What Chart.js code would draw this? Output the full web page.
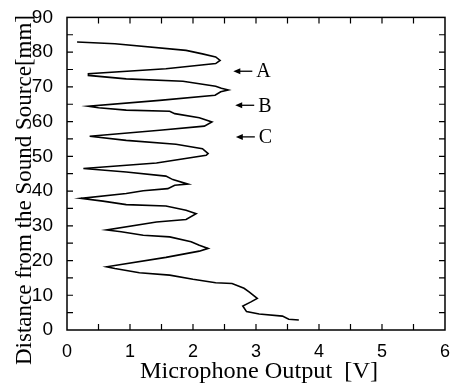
<!DOCTYPE html>
<html>
<head>
<meta charset="utf-8">
<script src="https://cdn.jsdelivr.net/npm/chart.js@4/dist/chart.umd.min.js"></script>
<style>
  html, body { margin: 0; padding: 0; background: #fff; }
  #wrap { width: 453px; height: 383px; }
</style>
</head>
<body>
<div id="wrap"><canvas id="micChart" width="453" height="383"></canvas></div>
<script>
// microphone output [V] vs distance from the sound source [mm]
const volts = [0.16, 0.76, 1.89, 2.15, 2.36, 2.43, 2.36, 1.57, 0.34, 0.34, 0.94, 1.84, 2.36, 2.45, 2.56, 2.44, 2.35,
    1.47, 0.34, 0.50, 0.94, 1.63, 1.71, 2.10, 2.30, 2.18, 1.47, 0.36, 0.94, 1.73, 2.15, 2.24, 2.21, 1.42, 0.26,
    0.94, 1.57, 1.68, 1.92, 1.71, 1.60, 1.21, 0.94, 0.22, 0.57, 0.94, 1.57, 1.89, 2.05, 1.89, 1.42, 0.63, 0.86,
    1.21, 1.63, 1.97, 2.10, 2.24, 2.10, 1.57, 0.63, 0.76, 1.15, 1.63, 2.00, 2.36, 2.62, 2.81, 2.89, 3.02, 2.92,
    2.79, 2.85, 3.05, 3.42, 3.52, 3.68];
const distances = [82.9, 82.4, 80.5, 79.5, 78.6, 77.6, 76.7, 75.2, 73.8, 73.3, 72.3, 71.6, 70.2, 69.6, 69.1, 68.6, 67.6,
    66.1, 64.4, 64.0, 63.3, 63.0, 62.3, 61.1, 59.9, 58.7, 57.5, 55.8, 54.6, 53.5, 52.2, 50.8, 50.3, 48.1, 46.5,
    45.5, 44.3, 43.3, 42.0, 41.7, 40.7, 40.1, 39.3, 37.9, 37.1, 36.1, 35.7, 34.5, 33.5, 31.8, 31.1, 28.8, 28.3,
    27.3, 26.8, 25.4, 24.4, 23.5, 22.7, 20.9, 18.2, 17.7, 16.5, 15.8, 14.6, 13.6, 13.4, 12.0, 11.0, 9.1, 8.1,
    6.9, 5.3, 4.6, 4.0, 3.1, 2.9];

// marked positions
const markLabels = ['A', 'B', 'C'];
const markDistances = [74.5, 64.7, 55.6];
const markVolts = [2.64, 2.67, 2.68];

const xTickLabels = ['0', '1', '2', '3', '4', '5', '6'];
const yTickLabels = ['0', '10', '20', '30', '40', '50', '60', '70', '80', '90'];

const points = volts.map((v, i) => ({ x: v, y: distances[i] }));

const serif = '"Liberation Serif", "Times New Roman", serif';

// draw text squeezed/stretched to a given width
function fitText(ctx, text, x, y, width) {
    const w = ctx.measureText(text).width;
    ctx.save();
    ctx.translate(x, y);
    ctx.scale(width / w, 1);
    ctx.fillText(text, 0, 0);
    ctx.restore();
}

// frame, inward ticks, titles and A/B/C markers
const framePlugin = {
    id: 'frame',
    afterDraw(chart) {
        const ctx = chart.ctx;
        const a = chart.chartArea;
        const xs = chart.scales.x;
        const ys = chart.scales.y;
        ctx.save();
        ctx.strokeStyle = '#000';
        ctx.lineWidth = 1.5;
        ctx.strokeRect(a.left, a.top, a.right - a.left, a.bottom - a.top);

        ctx.lineWidth = 1.2;
        ctx.beginPath();
        for (let v = 0.5; v < 6; v += 0.5) {
            const px = xs.getPixelForValue(v);
            ctx.moveTo(px, a.bottom); ctx.lineTo(px, a.bottom - 6);
            ctx.moveTo(px, a.top); ctx.lineTo(px, a.top + 6);
        }
        for (let v = 5; v < 90; v += 5) {
            const py = ys.getPixelForValue(v);
            ctx.moveTo(a.left, py); ctx.lineTo(a.left + 6, py);
            ctx.moveTo(a.right, py); ctx.lineTo(a.right - 6, py);
        }
        ctx.stroke();

        // markers
        ctx.fillStyle = '#000';
        ctx.font = '20px ' + serif;
        ctx.textBaseline = 'middle';
        ctx.textAlign = 'left';
        markLabels.forEach((lab, i) => {
            const py = ys.getPixelForValue(markDistances[i]);
            const x0 = xs.getPixelForValue(markVolts[i]);
            const x1 = x0 + 19;
            ctx.lineWidth = 1.3;
            ctx.beginPath();
            ctx.moveTo(x0 + 4, py); ctx.lineTo(x1, py);
            ctx.stroke();
            ctx.beginPath();
            ctx.moveTo(x0, py);
            ctx.lineTo(x0 + 7, py - 3);
            ctx.lineTo(x0 + 7, py + 3);
            ctx.closePath();
            ctx.fill();
            ctx.fillText(lab, x1 + 4, py + 1);
        });

        // axis titles
        ctx.font = '23px ' + serif;
        ctx.textAlign = 'center';
        ctx.textBaseline = 'alphabetic';
        fitText(ctx, 'Microphone Output  [V]', 259, 378, 238);
        ctx.translate(31, 190);
        ctx.rotate(-Math.PI / 2);
        fitText(ctx, 'Distance from the Sound Source[mm]', 0, 0, 350);
        ctx.restore();
    }
};

new Chart(document.getElementById('micChart').getContext('2d'), {
    type: 'scatter',
    data: {
        datasets: [{
            data: points,
            showLine: true,
            borderColor: '#000',
            borderWidth: 1.6,
            pointRadius: 0,
            tension: 0,
            fill: false
        }]
    },
    options: {
        responsive: false,
        animation: false,
        layout: { padding: { top: 17, right: 6, left: 0, bottom: 0 } },
        plugins: { legend: { display: false }, tooltip: { enabled: false } },
        scales: {
            x: {
                type: 'linear',
                min: 0, max: 6,
                grid: { display: false },
                border: { display: false },
                ticks: {
                    stepSize: 1,
                    color: '#000',
                    padding: 3,
                    font: { family: '"Liberation Sans", Arial, sans-serif', size: 18 },
                    callback: (v) => xTickLabels[v]
                },
                afterFit: (s) => { s.height = 53; }
            },
            y: {
                type: 'linear',
                min: 0, max: 90,
                grid: { display: false },
                border: { display: false },
                ticks: {
                    stepSize: 10,
                    color: '#000',
                    padding: 6,
                    font: { family: '"Liberation Sans", Arial, sans-serif', size: 19 },
                    callback: (v) => yTickLabels[v / 10]
                },
                afterFit: (s) => { s.width = 67; }
            }
        }
    },
    plugins: [framePlugin]
});
</script>
</body>
</html>
